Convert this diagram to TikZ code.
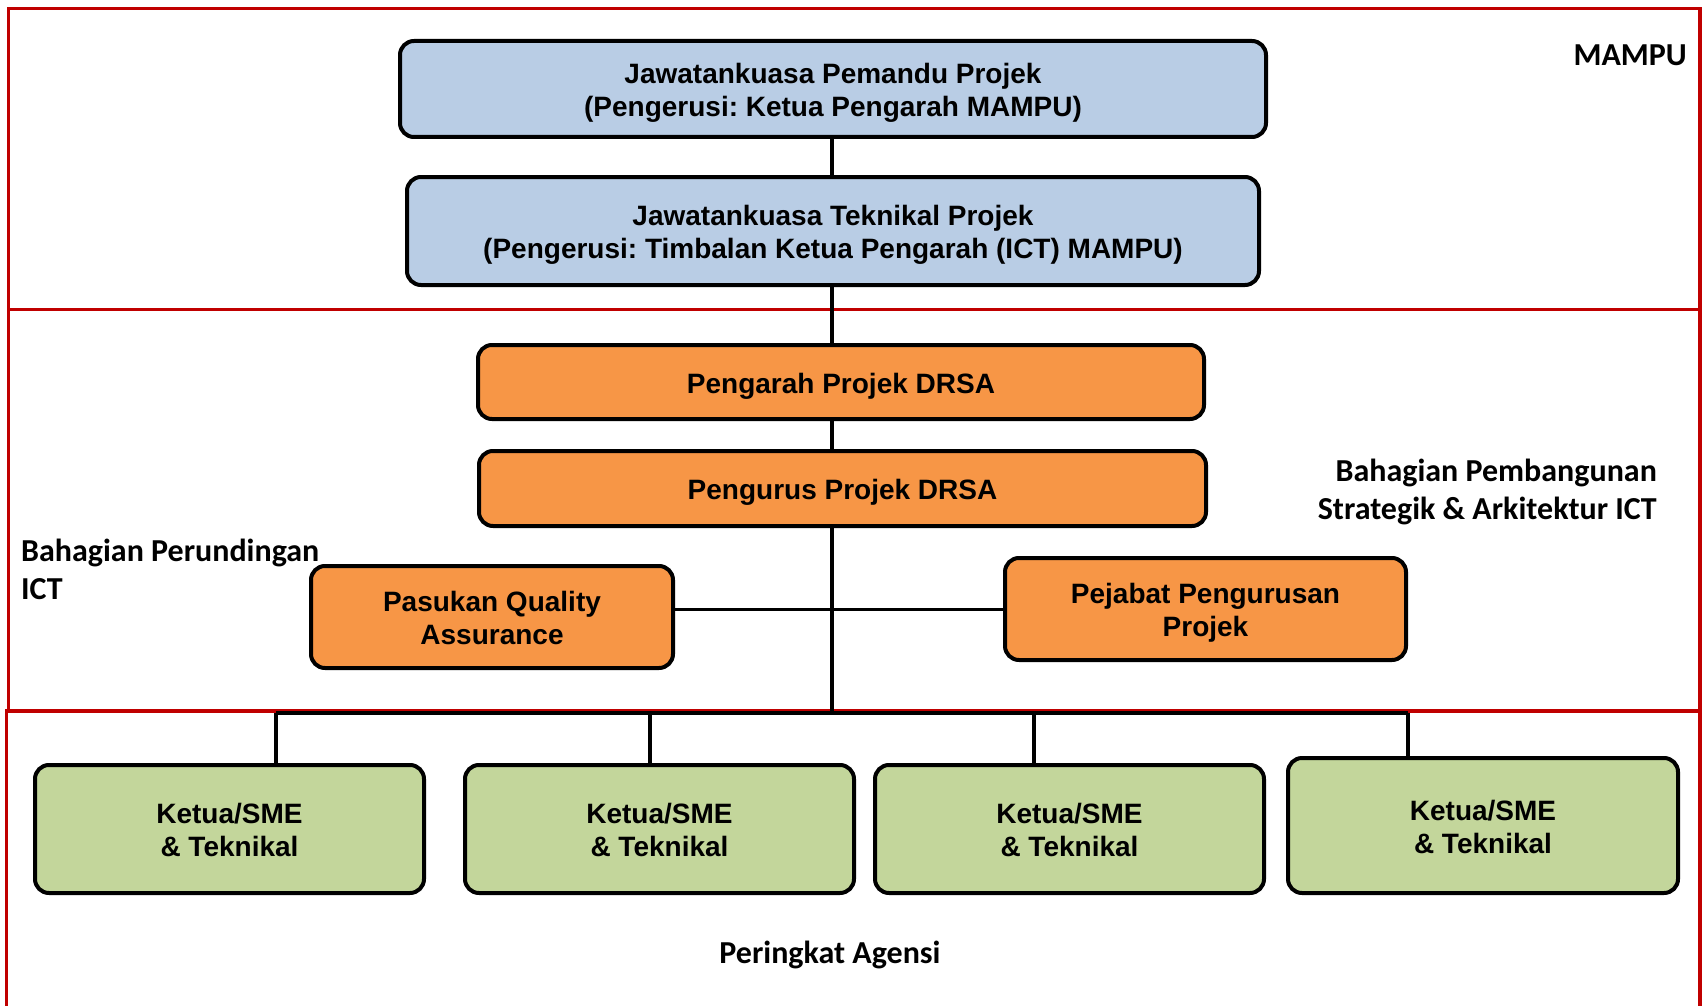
\documentclass[tikz,border=0pt]{standalone}
\usepackage{fontspec}
\setmainfont{Liberation Sans}
\newfontfamily\calib{Carlito}
\frenchspacing
\definecolor{frame}{HTML}{C00000}
\definecolor{bluebox}{HTML}{B9CDE5}
\definecolor{orangebox}{HTML}{F79646}
\definecolor{greenbox}{HTML}{C3D69B}
\newcommand{\bxt}[1]{\raisebox{0pt}[\dimexpr\height+9pt\relax][\depth]{\begin{tabular}{@{}c@{}}#1\end{tabular}}}
\begin{document}
\begin{tikzpicture}[x=1pt,y=-1pt,
  orgbox/.style={draw=black, line width=4pt, rounded corners=14pt, inner sep=0pt,
    font=\fontsize{28}{33}\selectfont\bfseries},
  bluestyle/.style={orgbox, fill=bluebox},
  orangestyle/.style={orgbox, fill=orangebox},
  greenstyle/.style={orgbox, fill=greenbox},
  conn/.style={draw=black, line width=3.5pt},
  redline/.style={draw=frame, line width=3.5pt},
  lbl/.style={inner sep=0pt, font=\calib\fontsize{32}{38.5}\selectfont\bfseries}
]
\useasboundingbox[fill=white] (0,0) rectangle (1703,1006);
% red frames
\draw[redline] (8.7,8.7) rectangle (1700,309.5);
\draw[redline] (8.7,309.5) rectangle (1700,711);
\draw[redline] (6.5,1010) -- (6.5,711) -- (1700,711) -- (1700,1010);

% boxes
\node[bluestyle, minimum width=866, minimum height=96] (b1) at (833,89)
  {\bxt{Jawatankuasa Pemandu Projek\\(Pengerusi: Ketua Pengarah MAMPU)}};
\node[bluestyle, minimum width=852, minimum height=108] (b2) at (833,231)
  {\bxt{Jawatankuasa Teknikal Projek\\(Pengerusi: Timbalan Ketua Pengarah (ICT) MAMPU)}};
\node[orangestyle, minimum width=726, minimum height=74] (b3) at (841,382)
  {\bxt{Pengarah Projek DRSA}};
\node[orangestyle, minimum width=727, minimum height=75] (b4) at (842.5,488.5)
  {\bxt{Pengurus Projek DRSA}};
\node[orangestyle, minimum width=362, minimum height=102] (qa) at (492,617)
  {\bxt{Pasukan Quality\\Assurance}};
\node[orangestyle, minimum width=401, minimum height=102] (pej) at (1205.5,609)
  {\bxt{Pejabat Pengurusan\\Projek}};
\node[greenstyle, minimum width=389, minimum height=128] (g1) at (229.5,829)
  {\bxt{Ketua/SME\\\& Teknikal}};
\node[greenstyle, minimum width=389, minimum height=128] (g2) at (659.5,829)
  {\bxt{Ketua/SME\\\& Teknikal}};
\node[greenstyle, minimum width=389, minimum height=128] (g3) at (1069.5,829)
  {\bxt{Ketua/SME\\\& Teknikal}};
\node[greenstyle, minimum width=390, minimum height=135] (g4) at (1483,825.5)
  {\bxt{Ketua/SME\\\& Teknikal}};

% connectors
\coordinate (trunk) at (832,713);
\coordinate (barL) at (276,713);
\coordinate (barR) at (1408,713);
\coordinate (d2) at (650,713);
\coordinate (d3) at (1034,713);
\draw[conn] (b1.south -| trunk) -- (b2.north -| trunk);
\draw[conn] (b2.south -| trunk) -- (b3.north -| trunk);
\draw[conn] (b3.south -| trunk) -- (b4.north -| trunk);
\draw[conn] (b4.south -| trunk) -- (trunk);
\draw[draw=black, line width=3pt] (qa.east |- pej.west) -- (pej.west);
\draw[conn] (barL) -- (barR);
\draw[conn] (barL) -- (barL |- g1.north);
\draw[conn] (d2) -- (d2 |- g2.north);
\draw[conn] (d3) -- (d3 |- g3.north);
\draw[conn] (barR) -- (barR |- g4.north);

% labels
\node[lbl, anchor=east] (mampu) at (1687,55) {MAMPU};
\node[lbl, anchor=east, align=right] (bpsa) at (1657,492)
  {Bahagian Pembangunan\\Strategik \& Arkitektur ICT};
\node[lbl, anchor=west, align=left] (bpi) at (21,569.5)
  {Bahagian Perundingan\\ICT};
\node[lbl] (agensi) at (830,954.5) {Peringkat Agensi};
\end{tikzpicture}
\end{document}
